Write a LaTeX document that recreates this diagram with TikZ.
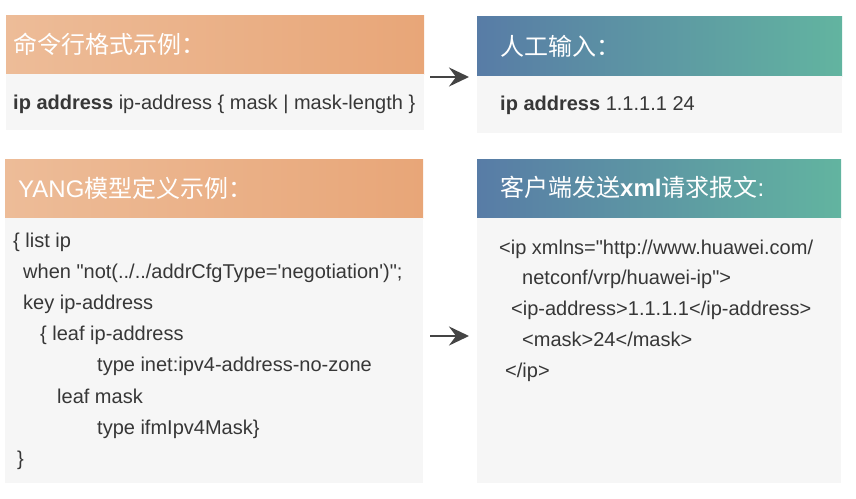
\documentclass[tikz,border=0pt]{standalone}
\usepackage{fontspec}
\setmainfont{Liberation Sans}[Ligatures=TeXOff]
\newfontfamily\cjk{Noto Sans CJK SC}
\usetikzlibrary{arrows.meta}
\definecolor{orgL}{RGB}{237,188,152}
\definecolor{orgR}{RGB}{232,166,120}
\definecolor{bluL}{RGB}{88,124,166}
\definecolor{bluR}{RGB}{98,180,160}
\definecolor{bodybg}{RGB}{246,246,246}
\definecolor{txt}{RGB}{55,55,55}
\definecolor{arr}{RGB}{68,68,68}
\begin{document}
\begin{tikzpicture}[
  x=1pt, y=-1pt,
  hdr/.style={rectangle, anchor=north west, inner sep=0pt, draw=none},
  orghdr/.style={hdr, left color=orgL, right color=orgR},
  bluhdr/.style={hdr, left color=bluL, right color=bluR},
  body/.style={rectangle, anchor=north west, inner sep=0pt, fill=bodybg},
  htxt/.style={anchor=base west, inner sep=0pt, text=white, font=\fontsize{24}{24}\selectfont},
  ctxt/.style={anchor=base west, inner sep=0pt, text=txt, font=\fontsize{20}{20}\selectfont},
  e/.style={-{Stealth[length=20pt,width=19pt,inset=7pt]}, line width=2.6pt, arr}
]
\useasboundingbox (0,0) rectangle (856,498);

% panels
\node[orghdr, minimum width=418pt, minimum height=59pt] (cmdhead) at (6,15) {};
\node[body, minimum width=418pt, minimum height=56pt] (cmdbody) at (6,74) {};
\node[bluhdr, minimum width=365pt, minimum height=60pt] (inhead) at (477,16) {};
\node[body, minimum width=365pt, minimum height=57pt] (inbody) at (477,76) {};
\node[orghdr, minimum width=418pt, minimum height=59pt] (yanghead) at (5,159) {};
\node[body, minimum width=418pt, minimum height=265pt] (yangbody) at (5,218) {};
\node[bluhdr, minimum width=364pt, minimum height=59pt] (xmlhead) at (477,159) {};
\node[body, minimum width=364pt, minimum height=265pt] (xmlbody) at (477,218) {};

% titles
\node[htxt] (cmdtitle) at (13,53) {\cjk 命令行格式示例：};
\node[htxt] (intitle) at (500,55) {\cjk 人工输入：};
\node[htxt] (yangtitle) at (18,197) {YANG{\cjk 模型定义示例：}};
\node[htxt] (xmltitle) at (500,196) {{\cjk 客户端发送}\textbf{xml}{\cjk 请求报文}:};

% command line
\node[ctxt] (cmdline) at (13,109) {\textbf{ip address} ip-address \{ mask | mask-length \}};
\node[ctxt] (inline) at (500,110) {\textbf{ip address} 1.1.1.1 24};

% yang model
\node[ctxt] (y1) at (13,247) {\{ list ip};
\node[ctxt] (y2) at (23,278) {when "not(../../addrCfgType='negotiation')";};
\node[ctxt] (y3) at (23,309) {key ip-address};
\node[ctxt] (y4) at (40,340) {\{ leaf ip-address};
\node[ctxt] (y5) at (97,371.5) {type inet:ipv4-address-no-zone};
\node[ctxt] (y6) at (57,403) {leaf mask};
\node[ctxt] (y7) at (97,434) {type ifmIpv4Mask\}};
\node[ctxt] (y8) at (17,465) {\}};

% xml request
\node[ctxt] (x1) at (499,254) {<ip xmlns="http://www.huawei.com/};
\node[ctxt] (x2) at (522,284) {netconf/vrp/huawei-ip">};
\node[ctxt] (x3) at (511,315.5) {<ip-address>1.1.1.1</ip-address>};
\node[ctxt] (x4) at (522,346.5) {<mask>24</mask>};
\node[ctxt] (x5) at (505,377) {</ip>};

% arrows
\coordinate (a1s) at (430,77);
\coordinate (a1e) at (469,77);
\coordinate (a2s) at (430,336);
\coordinate (a2e) at (469,336);
\draw[e] (a1s) -- (a1e);
\draw[e] (a2s) -- (a2e);
\end{tikzpicture}
\end{document}
